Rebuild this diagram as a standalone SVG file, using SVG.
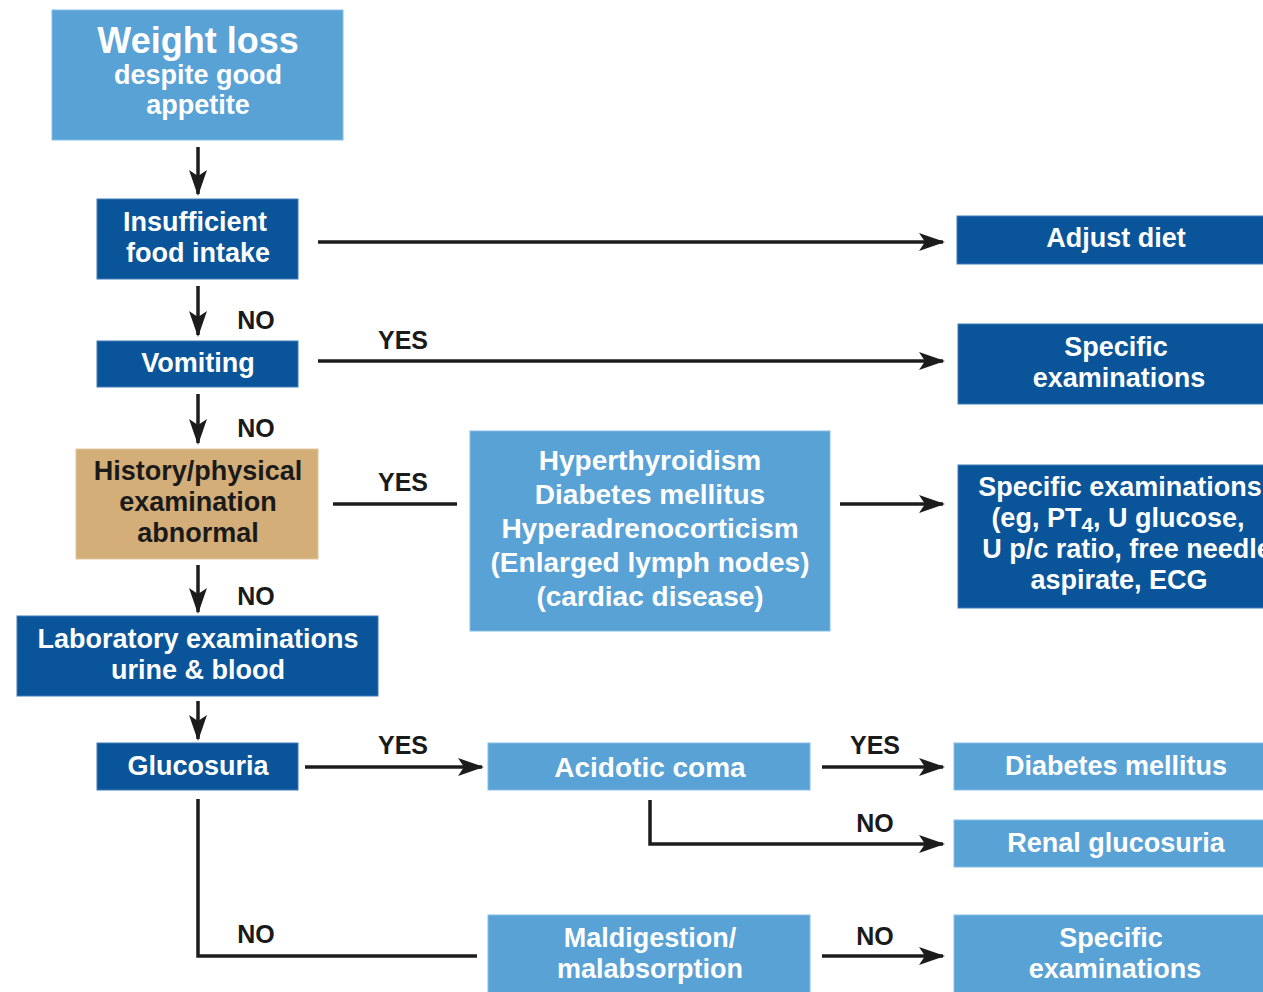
<svg xmlns="http://www.w3.org/2000/svg" width="1263" height="992" viewBox="0 0 1263 992">
<defs>
<marker id="ah" markerUnits="userSpaceOnUse" markerWidth="26" markerHeight="18" refX="24" refY="9" orient="auto">
<path d="M0,0 L26,9 L0,18 L6,9 Z" fill="#1c1c1c"/>
</marker>
<style>
.dark{fill:#0a5599;stroke:#3f7dbb;stroke-width:1}
.light{fill:#59a2d6;stroke:#86bde6;stroke-width:1}
.tan{fill:#d3ae78;stroke:#e2c79e;stroke-width:1}
text{font-family:"Liberation Sans",Arial,sans-serif;font-weight:bold;text-anchor:middle}
.t{fill:#ffffff;font-size:27px}
.t28{fill:#ffffff;font-size:28px}
.big{fill:#ffffff;font-size:36px}
.tk{fill:#1a1a1a;font-size:27px}
.lb{fill:#1a1a1a;font-size:25px}
.c{stroke:#1c1c1c;stroke-width:3.5;fill:none}
.a{marker-end:url(#ah)}
</style>
</defs>
<rect width="1263" height="992" fill="#ffffff"/>

<g id="connectors">
<line class="c a" x1="198" y1="147" x2="198" y2="194"/>
<line class="c a" x1="318" y1="242" x2="943" y2="242"/>
<line class="c a" x1="198" y1="286" x2="198" y2="335"/>
<line class="c a" x1="318" y1="361" x2="943" y2="361"/>
<line class="c a" x1="198" y1="394" x2="198" y2="443"/>
<line class="c" x1="333" y1="504" x2="457" y2="504"/>
<line class="c a" x1="840" y1="504" x2="943" y2="504"/>
<line class="c a" x1="198" y1="565" x2="198" y2="612"/>
<line class="c a" x1="198" y1="701" x2="198" y2="739"/>
<line class="c a" x1="305" y1="767" x2="482" y2="767"/>
<line class="c a" x1="822" y1="767" x2="943" y2="767"/>
<polyline class="c a" points="650,800 650,844 943,844"/>
<polyline class="c" points="198,799 198,956 477,956"/>
<line class="c a" x1="822" y1="956" x2="943" y2="956"/>
<text class="lb" x="256" y="329">NO</text>
<text class="lb" x="403" y="349">YES</text>
<text class="lb" x="256" y="437">NO</text>
<text class="lb" x="403" y="491">YES</text>
<text class="lb" x="256" y="605">NO</text>
<text class="lb" x="403" y="754">YES</text>
<text class="lb" x="875" y="754">YES</text>
<text class="lb" x="875" y="832">NO</text>
<text class="lb" x="256" y="943">NO</text>
<text class="lb" x="875" y="945">NO</text>
</g>

<g id="weight-loss">
<rect class="light" x="52" y="10" width="291" height="130"/>
<text class="big" x="198" y="53">Weight loss</text>
<text class="t" x="198" y="84">despite good</text>
<text class="t" x="198" y="114">appetite</text>
</g>

<g id="insufficient">
<rect class="dark" x="97" y="199" width="201" height="80"/>
<text class="t" x="195" y="231">Insufficient</text>
<text class="t" x="198" y="262">food intake</text>
</g>

<g id="vomiting">
<rect class="dark" x="97" y="341" width="201" height="46"/>
<text class="t" x="198" y="372">Vomiting</text>
</g>

<g id="history">
<rect class="tan" x="76" y="449" width="242" height="110"/>
<text class="tk" x="198" y="480">History/physical</text>
<text class="tk" x="198" y="511">examination</text>
<text class="tk" x="198" y="542">abnormal</text>
</g>

<g id="laboratory">
<rect class="dark" x="17" y="616" width="361" height="80"/>
<text class="t" x="198" y="648">Laboratory examinations</text>
<text class="t" x="198" y="679">urine &amp; blood</text>
</g>

<g id="glucosuria">
<rect class="dark" x="97" y="743" width="201" height="47"/>
<text class="t" x="198" y="775">Glucosuria</text>
</g>

<g id="adjust-diet">
<rect class="dark" x="957" y="216" width="310" height="48"/>
<text class="t" x="1116" y="247">Adjust diet</text>
</g>

<g id="specific-1">
<rect class="dark" x="958" y="324" width="310" height="80"/>
<text class="t" x="1116" y="356">Specific</text>
<text class="t" x="1119" y="387">examinations</text>
</g>

<g id="diseases">
<rect class="light" x="470" y="431" width="360" height="200"/>
<text class="t28" x="650" y="470">Hyperthyroidism</text>
<text class="t28" x="650" y="504">Diabetes mellitus</text>
<text class="t28" x="650" y="538">Hyperadrenocorticism</text>
<text class="t28" x="650" y="572">(Enlarged lymph nodes)</text>
<text class="t28" x="650" y="606">(cardiac disease)</text>
</g>

<g id="specific-2">
<rect class="dark" x="958" y="465" width="310" height="143"/>
<text class="t" x="1120" y="496">Specific examinations</text>
<text class="t" x="1118" y="527">(eg, PT<tspan font-size="21" dy="5">4</tspan><tspan dy="-5">, U glucose,</tspan></text>
<text class="t" x="1127" y="558">U p/c ratio, free needle</text>
<text class="t" x="1119" y="589">aspirate, ECG</text>
</g>

<g id="acidotic-coma">
<rect class="light" x="488" y="743" width="322" height="47"/>
<text class="t28" x="650" y="777">Acidotic coma</text>
</g>

<g id="diabetes">
<rect class="light" x="954" y="743" width="313" height="47"/>
<text class="t" x="1116" y="775">Diabetes mellitus</text>
</g>

<g id="renal">
<rect class="light" x="954" y="820" width="313" height="47"/>
<text class="t" x="1116" y="852">Renal glucosuria</text>
</g>

<g id="maldigestion">
<rect class="light" x="488" y="915" width="322" height="80"/>
<text class="t" x="650" y="947">Maldigestion/</text>
<text class="t" x="650" y="978">malabsorption</text>
</g>

<g id="specific-3">
<rect class="light" x="954" y="915" width="313" height="80"/>
<text class="t" x="1111" y="947">Specific</text>
<text class="t" x="1115" y="978">examinations</text>
</g>
</svg>
